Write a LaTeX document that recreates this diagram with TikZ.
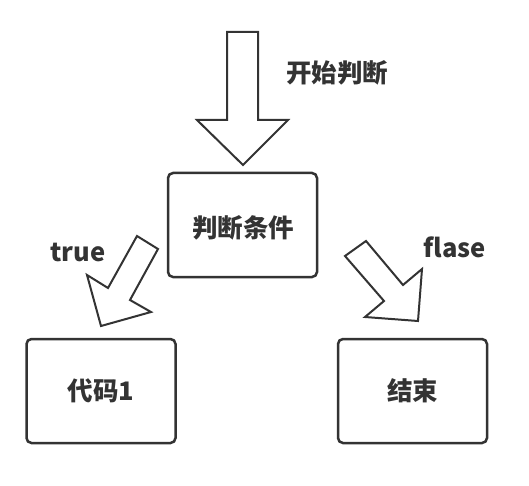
\documentclass[tikz,border=0pt]{standalone}
\usepackage{fontspec}
\newfontfamily\cjk{Noto Sans CJK SC}
\usepackage{tikz}
\definecolor{ink}{HTML}{333333}

\begin{document}
\begin{tikzpicture}[x=1pt,y=-1pt,
    box/.style={draw=ink, line width=2.5pt, rounded corners=5pt, minimum width=149pt, minimum height=104pt, inner sep=0pt},
    blockarrow/.style={draw=ink, line width=2pt, line join=miter, fill=white},
    txt/.style={text=ink, font=\cjk\bfseries\fontsize{25.5}{25.5}\selectfont, inner sep=0pt}]
  \useasboundingbox (0,0) rectangle (529,486);

  % Start
  \draw[blockarrow] (227,32) -- (258,32) -- (258,120) -- (288,120) -- (243,165)
    -- (197,120) -- (227,120) -- cycle;
  \node[txt] (start) at (337,73) {开始判断};

  % Condition
  \node[box] (cond) at (242.5,225) {};
  \node[txt] (condtext) at (243,228) {判断条件};

  % true branch
  \draw[blockarrow] (137,236) -- (158,249) -- (130,300) -- (151,312) -- (101,326)
    -- (87,275) -- (108,288) -- cycle;
  \node[txt] (true) at (78,252) {true};

  % flase branch
  \draw[blockarrow] (345,256) -- (366,241) -- (403,285) -- (422,269) -- (418,321)
    -- (365,317) -- (384,301) -- cycle;
  \node[txt] (false) at (455,247) {flase};

  % Results
  \node[box] (code) at (101,391) {};
  \node[txt] at (code) {代码1};
  \node[box] (stop) at (412.5,391) {};
  \node[txt] at (stop) {结束};
\end{tikzpicture}
\end{document}
